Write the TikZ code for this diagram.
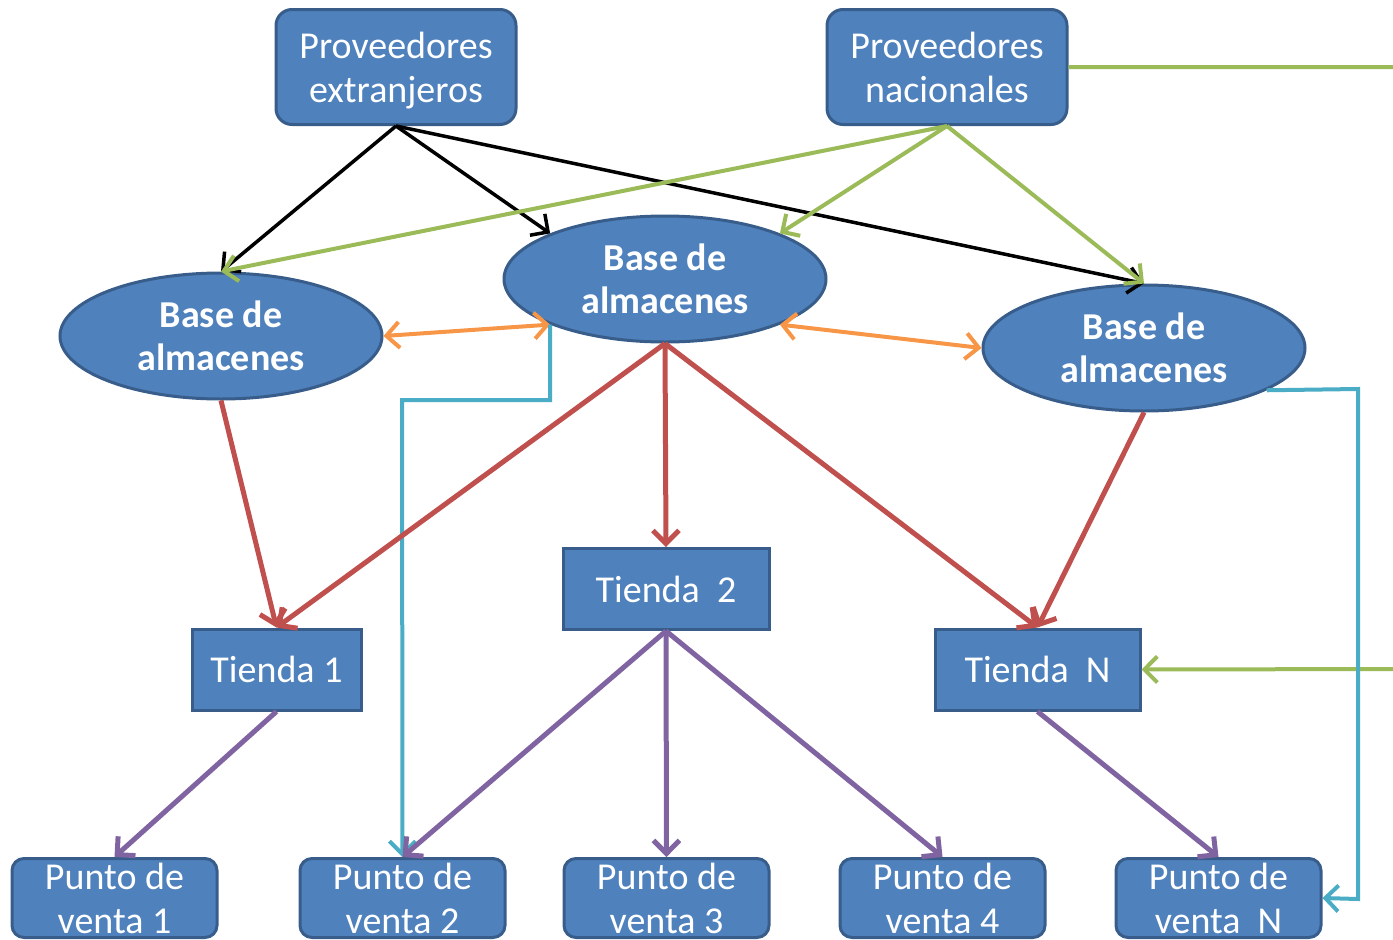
\documentclass[tikz,border=0pt]{standalone}
\usepackage{fontspec}
\setmainfont{Carlito}
\usetikzlibrary{arrows.meta,shapes.geometric}
\definecolor{fillb}{HTML}{4F81BD}
\definecolor{bdr}{HTML}{385D8A}
\definecolor{cgreen}{HTML}{9BBB59}
\definecolor{corange}{HTML}{F79646}
\definecolor{cteal}{HTML}{4BACC6}
\definecolor{cred}{HTML}{C0504D}
\definecolor{cpurple}{HTML}{8064A2}
\begin{document}
\begin{tikzpicture}[x=1pt,y=-1pt,
  base/.style={draw=bdr, line width=3pt, fill=fillb, text=white, align=center, inner sep=0pt,
    font=\fontsize{38}{44}\selectfont},
  prov/.style={base, rounded corners=16pt, minimum width=240pt, minimum height=115pt},
  alm/.style={base, ellipse, minimum width=322pt, minimum height=126pt, font=\fontsize{38}{43}\selectfont\bfseries},
  tienda/.style={base, rectangle, minimum height=81pt},
  punto/.style={base, rounded corners=12pt, minimum width=205pt, minimum height=79pt},
  tip/.style={-{Straight Barb[length=13pt,width=26pt]}},
  blk/.style={draw=black, line width=3.5pt, tip},
  grn/.style={draw=cgreen, line width=4pt, tip},
  org/.style={draw=corange, line width=4pt, {Straight Barb[length=13pt,width=26pt]}-{Straight Barb[length=13pt,width=26pt]}},
  tea/.style={draw=cteal, line width=4pt, tip},
  rd/.style={draw=cred, line width=5pt, tip},
  pur/.style={draw=cpurple, line width=5pt, tip}
]
\useasboundingbox (0,0) rectangle (1393,940);
% nodes
\node[prov] (PE) at (396,67) {Proveedores\\\smash{extranjeros}};
\node[prov] (PN) at (947,67) {Proveedores\\nacionales};
\node[alm] (B1) at (221,336) {Base de\\almacenes};
\node[alm] (B2) at (665,279) {Base de\\almacenes};
\node[alm] (B3) at (1144,348) {Base de\\almacenes};
\node[tienda, minimum width=169pt] (T1) at (276.5,669.5) {Tienda 1};
\node[tienda, minimum width=206pt] (T2) at (666,589) {Tienda\ \ 2};
\node[tienda, minimum width=205pt] (TN) at (1037.5,669.5) {Tienda\ \ N};
\node[punto] (P1) at (114.5,898) {Punto de\\venta 1};
\node[punto] (P2) at (402.5,898) {Punto de\\venta 2};
\node[punto] (P3) at (666.5,898) {Punto de\\venta 3};
\node[punto] (P4) at (942.5,898) {Punto de\\venta 4};
\node[punto] (PV) at (1218.5,898) {Punto de\\venta\ \ N};
\coordinate (gr1) at (1400,67);
\coordinate (gr2) at (1400,669);
\coordinate (tb1) at (1358,389);
\coordinate (tb2) at (1358,899);
\coordinate (ta1) at (550,400);
\coordinate (ta2) at (402,400);
% black
\draw[blk] (PE.south) -- (B1.north);
\draw[blk] (PE.south) -- (B2.north west);
\draw[blk] (PE.south) -- (B3.north);
% green
\draw[grn] (PN.south) -- (B1.north);
\draw[grn] (PN.south) -- (B2.north east);
\draw[grn] (PN.south) -- (B3.north);
\draw[grn] (PN.east) -- (gr1) -- (gr2) -- (TN.east);
% orange
\draw[org] (B1.east) -- (B2.south west);
\draw[org] (B2.south east) -- (B3.west);
% teal
\draw[tea] (B2.south west) -- (ta1) -- (ta2) -- (P2.north);
\draw[tea] (B3.-19) -- (tb1) -- (tb2) -- (PV.east);
% red
\draw[rd] (B1.south) -- (T1.north);
\draw[rd] (B2.south) -- (T1.north);
\draw[rd] (B2.south) -- (T2.north);
\draw[rd] (B2.south) -- (TN.north);
\draw[rd] (B3.south) -- (TN.north);
% purple
\draw[pur] (T1.south) -- (P1.north);
\draw[pur] (T2.south) -- (P2.north);
\draw[pur] (T2.south) -- (P3.north);
\draw[pur] (T2.south) -- (P4.north);
\draw[pur] (TN.south) -- (PV.north);
\end{tikzpicture}
\end{document}
